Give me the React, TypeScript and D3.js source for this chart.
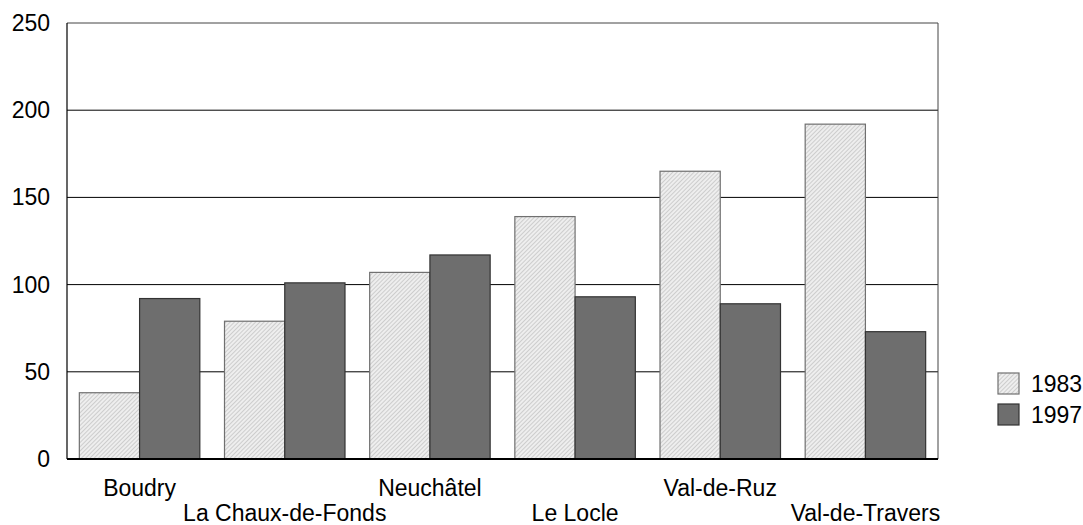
import React from "react";
import * as d3 from "d3";

const categories = ["Boudry", "La Chaux-de-Fonds", "Neuchâtel", "Le Locle", "Val-de-Ruz", "Val-de-Travers"];
const series1983 = [38, 79, 107, 139, 165, 192];
const series1997 = [92, 101, 117, 93, 89, 73];
const seriesNames = ["1983", "1997"];
const yTicks = [0, 50, 100, 150, 200, 250];

export default function App() {
  const W = 1083, H = 525;
  const left = 67, right = 938, top = 23, bottom = 459;
  const x = d3.scaleBand<string>().domain(categories).range([left, right]).paddingInner(0.17).paddingOuter(0.085);
  const inner = d3.scaleBand<string>().domain(seriesNames).range([0, x.bandwidth()]);
  const y = d3.scaleLinear().domain([0, 250]).range([bottom, top]);
  const data = [series1983, series1997];
  const font = "'Liberation Sans', Arial, sans-serif";
  const fs = 23;
  return (
    <svg width={W} height={H} style={{ position: "absolute", left: 0, top: 0 }} fontFamily={font}>
      <defs>
        <pattern id="hatch" patternUnits="userSpaceOnUse" width="3" height="3" patternTransform="rotate(45)">
          <rect width="3" height="3" fill="#eeeeee" />
          <line x1="0" y1="0" x2="0" y2="3" stroke="#c2c2c2" strokeWidth="1.5" />
        </pattern>
      </defs>
      <rect x={0} y={0} width={W} height={H} fill="#fff" />
      {yTicks.filter(t => t > 0 && t < 250).map(t => (
        <line key={t} x1={left} x2={right} y1={y(t)} y2={y(t)} stroke="#000" strokeWidth={1} />
      ))}
      <line x1={left} x2={right} y1={y(250)} y2={y(250)} stroke="#444" strokeWidth={1} />
      <line x1={right} x2={right} y1={top} y2={bottom} stroke="#444" strokeWidth={1} />
      {categories.map((c, i) =>
        data.map((s, j) => (
          <rect key={c + j}
            x={(x(c) as number) + (inner(seriesNames[j]) as number)}
            y={y(s[i])}
            width={inner.bandwidth()}
            height={bottom - y(s[i])}
            fill={j === 0 ? "url(#hatch)" : "#6e6e6e"}
            stroke={j === 0 ? "#707070" : "#333"}
            strokeWidth={1.2} />
        ))
      )}
      <line x1={left} x2={left} y1={top} y2={bottom} stroke="#000" strokeWidth={1.2} />
      <line x1={left} x2={right} y1={bottom} y2={bottom} stroke="#000" strokeWidth={2} />
      {yTicks.map(t => (
        <text key={t} x={50} y={y(t) + 8} textAnchor="end" fontSize={fs} fill="#000">{t}</text>
      ))}
      {categories.map((c, i) => (
        <text key={c} x={(x(c) as number) + x.bandwidth() / 2} y={i % 2 === 0 ? 496 : 521}
          textAnchor="middle" fontSize={fs} fill="#000">{c}</text>
      ))}
      {seriesNames.map((n, j) => (
        <g key={n}>
          <rect x={998} y={373 + j * 31} width={21} height={21}
            fill={j === 0 ? "url(#hatch)" : "#6e6e6e"} stroke={j === 0 ? "#707070" : "#333"} strokeWidth={1.2} />
          <text x={1031} y={392 + j * 31} fontSize={fs} fill="#000">{n}</text>
        </g>
      ))}
    </svg>
  );
}
